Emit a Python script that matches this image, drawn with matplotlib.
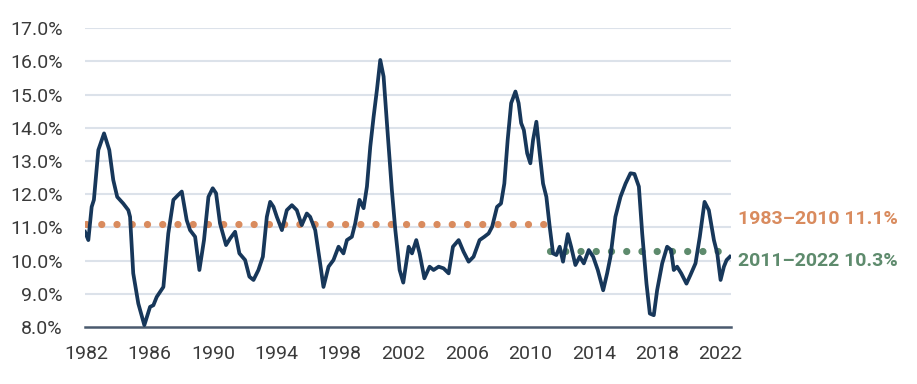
import numpy as np
import matplotlib
matplotlib.use("Agg")
import matplotlib.pyplot as plt
from matplotlib.ticker import FuncFormatter

# ---- data ----
years = [
    1981.94, 1982.15, 1982.36, 1982.5, 1982.78, 1983.14, 1983.47, 1983.72, 1983.97,
    1984.35, 1984.67, 1984.78, 1984.98, 1985.3, 1985.68, 1986.04, 1986.25, 1986.46,
    1986.88, 1987.19, 1987.51, 1987.82, 1988.04, 1988.35, 1988.56, 1988.88, 1989.15,
    1989.44, 1989.72, 1989.99, 1990.2, 1990.45, 1990.83, 1991.09, 1991.4, 1991.67,
    1992.03, 1992.3, 1992.56, 1992.87, 1993.15, 1993.4, 1993.61, 1993.82, 1994.03,
    1994.35, 1994.66, 1994.98, 1995.29, 1995.6, 1995.92, 1996.13, 1996.45, 1996.76,
    1996.97, 1997.29, 1997.6, 1997.92, 1998.23, 1998.45, 1998.76, 1998.97, 1999.24,
    1999.5, 1999.71, 1999.92, 2000.13, 2000.34, 2000.55, 2000.76, 2000.97, 2001.28,
    2001.5, 2001.77, 2002.0, 2002.34, 2002.55, 2002.82, 2003.03, 2003.33, 2003.66,
    2003.91, 2004.23, 2004.54, 2004.86, 2005.13, 2005.49, 2005.8, 2006.12, 2006.43,
    2006.81, 2007.11, 2007.38, 2007.6, 2007.91, 2008.16, 2008.37, 2008.58, 2008.8,
    2009.07, 2009.27, 2009.43, 2009.6, 2009.81, 2010.01, 2010.18, 2010.39, 2010.6,
    2010.81, 2011.02, 2011.23, 2011.44, 2011.65, 2011.86, 2012.07, 2012.37, 2012.58,
    2012.85, 2013.12, 2013.38, 2013.69, 2013.97, 2014.26, 2014.6, 2014.85, 2015.06,
    2015.37, 2015.69, 2016.01, 2016.32, 2016.57, 2016.85, 2017.06, 2017.33, 2017.54,
    2017.79, 2018.0, 2018.32, 2018.63, 2018.88, 2019.05, 2019.26, 2019.52, 2019.85,
    2020.1, 2020.42, 2020.69, 2020.99, 2021.26, 2021.58, 2021.79, 2022.0, 2022.21,
    2022.38, 2022.59,
]
rate = [
    10.87, 10.62, 11.62, 11.83, 13.33, 13.83, 13.33, 12.43, 11.92,
    11.72, 11.52, 11.32, 9.62, 8.71, 8.06, 8.61, 8.66, 8.91,
    9.21, 10.82, 11.83, 11.98, 12.08, 11.22, 10.92, 10.72, 9.72,
    10.62, 11.92, 12.18, 12.03, 11.12, 10.47, 10.67, 10.87, 10.22,
    10.02, 9.52, 9.42, 9.72, 10.12, 11.32, 11.77, 11.62, 11.32,
    10.92, 11.52, 11.67, 11.52, 11.07, 11.42, 11.32, 10.92, 9.92,
    9.21, 9.82, 10.02, 10.42, 10.22, 10.62, 10.72, 11.12, 11.83,
    11.58, 12.23, 13.43, 14.33, 15.14, 16.04, 15.54, 14.14, 12.13,
    10.92, 9.72, 9.34, 10.42, 10.22, 10.62, 10.22, 9.47, 9.82,
    9.72, 9.82, 9.77, 9.62, 10.42, 10.62, 10.27, 9.97, 10.12,
    10.62, 10.72, 10.82, 11.02, 11.62, 11.72, 12.32, 13.63, 14.74,
    15.09, 14.74, 14.14, 13.93, 13.23, 12.93, 13.63, 14.18, 13.23,
    12.32, 11.92, 11.02, 10.22, 10.17, 10.42, 9.97, 10.8, 10.42,
    9.87, 10.12, 9.92, 10.32, 10.12, 9.72, 9.11, 9.62, 10.12,
    11.32, 11.92, 12.32, 12.63, 12.61, 12.23, 10.82, 9.31, 8.41,
    8.36, 9.11, 9.92, 10.42, 10.32, 9.72, 9.82, 9.62, 9.31,
    9.57, 9.92, 10.72, 11.77, 11.52, 10.62, 10.22, 9.42, 9.82,
    10.02, 10.12,
]

avg_labels = ["1983\u20132010 11.1%", "2011\u20132022 10.3%"]
avg_spans = [(1982.0, 2010.85), (2011.25, 2022.0)]
avg_values = [11.1, 10.3]
avg_label_y = [11.25, 10.0]
avg_colors = ["#D98B5E", "#5E8B6D"]

xticks = list(range(1982, 2023, 4))
yticks = np.arange(8, 17.01, 1.0)

LINE_COLOR = "#17375A"
GRID_COLOR = "#DCE2EA"

plt.rcParams["font.family"] = ["Roboto", "DejaVu Sans"]

fig = plt.figure(figsize=(9.17, 3.84), dpi=100)
ax = fig.add_axes([0.0927, 0.148, 0.704, 0.779])

for yt in yticks[1:]:
    ax.axhline(yt, color=GRID_COLOR, lw=1.5, zorder=0)

# dotted average lines
for (x0, x1), v, c in zip(avg_spans, avg_values, avg_colors):
    ax.plot([x0, x1], [v, v], color=c, lw=5.2,
            linestyle=(0, (0.01, 2.1)), dash_capstyle="round", zorder=2)

ax.plot(years, rate, color=LINE_COLOR, lw=2.7, solid_joinstyle="round", zorder=3)

for lab, ly, c in zip(avg_labels, avg_label_y, avg_colors):
    ax.text(2023.1, ly, lab, color=c, fontsize=14, fontweight="bold",
            va="center", ha="left", clip_on=False)

ax.set_xlim(1981.94, 2022.63)
ax.set_ylim(8, 17)
ax.set_xticks(xticks)
ax.set_yticks(yticks)
ax.yaxis.set_major_formatter(FuncFormatter(lambda v, p: f"{v:.1f}%"))

for s in ["top", "right", "left"]:
    ax.spines[s].set_visible(False)
ax.spines["bottom"].set_color("#4A5A6E")
ax.spines["bottom"].set_linewidth(1.8)
ax.tick_params(axis="both", length=0, labelsize=14, labelcolor="#3A3A3A")
ax.tick_params(axis="x", pad=13)
ax.tick_params(axis="y", pad=16)

fig.savefig("out.png", dpi=100, facecolor="white")
